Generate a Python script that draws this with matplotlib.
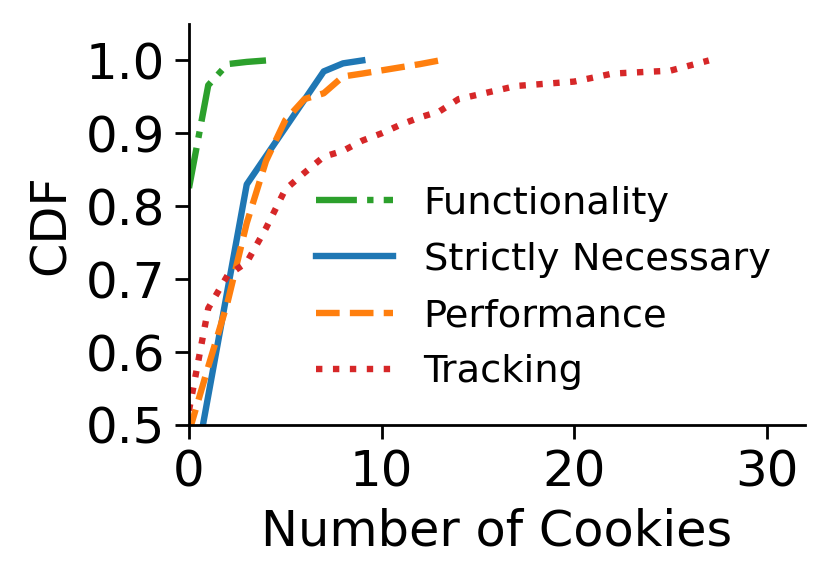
import matplotlib
matplotlib.use("Agg")
import matplotlib.pyplot as plt

# CDF curves (x = number of cookies, y = CDF)
func_x = [0, 1, 2, 3, 4]
func_y = [0.825, 0.966, 0.995, 0.998, 1.0]

nec_x = [0, 3, 7, 8, 9]
nec_y = [0.395, 0.830, 0.985, 0.996, 1.0]

perf_x = [0, 1, 2, 3, 4, 5, 6, 7, 8, 9, 12, 13]
perf_y = [0.49, 0.58, 0.668, 0.777, 0.862, 0.918, 0.947, 0.955, 0.978, 0.982, 0.995, 1.0]

track_x = [0, 1, 2, 3, 4, 5, 6, 7, 8, 9, 10, 11, 12, 13, 14, 15, 17, 20, 22, 25, 27]
track_y = [0.52, 0.66, 0.705, 0.723, 0.77, 0.823, 0.846, 0.868, 0.876, 0.89, 0.90,
           0.912, 0.922, 0.93, 0.947, 0.953, 0.965, 0.971, 0.982, 0.986, 1.0]

xticks = [0, 10, 20, 30]
yticks = [0.5, 0.6, 0.7, 0.8, 0.9, 1.0]

fig = plt.figure(figsize=(4.15, 2.92), dpi=200)
ax = fig.add_axes([0.2277, 0.2723, 0.7423, 0.6866])

lw = 2.3
ax.plot(func_x, func_y, linestyle="-.", color="#2ca02c", lw=lw, label="Functionality")
ax.plot(nec_x, nec_y, linestyle="-", color="#1f77b4", lw=lw, label="Strictly Necessary")
ax.plot(perf_x, perf_y, linestyle="--", color="#ff7f0e", lw=lw, label="Performance")
ax.plot(track_x, track_y, linestyle=":", color="#d62728", lw=lw, label="Tracking")

ax.set_xlim(0, 32)
ax.set_ylim(0.5, 1.05)
ax.set_xticks(xticks)
ax.set_yticks(yticks)
ax.set_yticklabels([f"{v:.1f}" for v in yticks])
ax.tick_params(labelsize=18, width=1.0, length=5)
for s in ["top", "right"]:
    ax.spines[s].set_visible(False)
for s in ["left", "bottom"]:
    ax.spines[s].set_linewidth(1.0)

ax.set_xlabel("Number of Cookies", fontsize=17.8)
ax.set_ylabel("CDF", fontsize=17.8)
ax.legend(loc="lower right", frameon=False, fontsize=13.8, labelspacing=0.53)

fig.savefig("out.png", dpi=200)
